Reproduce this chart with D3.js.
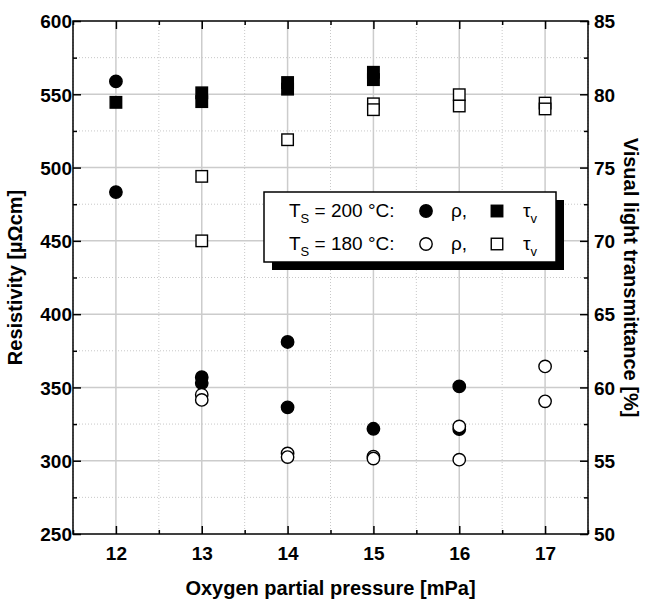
<!DOCTYPE html>
<html>
<head>
<meta charset="utf-8">
<script src="https://cdn.jsdelivr.net/npm/d3@7"></script>
<style>
  body { margin: 0; background: #fff; }
  text { font-family: "Liberation Sans", Arial, sans-serif; }
</style>
</head>
<body>
<div class="chart"></div>
<script>
// oxygen partial pressure [mPa] and values
const rho200P = [12, 12, 13, 13, 14, 14, 15, 16, 16];
const rho200  = [558.8, 483.3, 357, 353, 381, 336.4, 321.8, 350.7, 321.5];
const rho180P = [13, 13, 14, 14, 15, 15, 16, 16, 17, 17];
const rho180  = [345, 341.5, 305, 302.5, 302.8, 301.5, 323.4, 300.7, 364.3, 340.5];
const tau200P = [12, 13, 13, 14, 14, 15, 15];
const tau200  = [79.45, 80.1, 79.5, 80.8, 80.35, 81.5, 81.0];
const tau180P = [13, 13, 14, 15, 15, 16, 16, 17, 17];
const tau180  = [74.4, 70.0, 76.9, 79.35, 78.95, 79.97, 79.2, 79.4, 79.0];

const xTicks = [12, 13, 14, 15, 16, 17];
const yTicks = [250, 300, 350, 400, 450, 500, 550, 600];
const y2Ticks = [50, 55, 60, 65, 70, 75, 80, 85];

const W = 645, H = 604;
const margin = {top: 21, right: 57, bottom: 70, left: 73};
const w = W - margin.left - margin.right;
const h = H - margin.top - margin.bottom;

const svg = d3.select(".chart").append("svg")
    .attr("width", W)
    .attr("height", H);

const g = svg.append("g")
    .attr("transform", `translate(${margin.left},${margin.top})`);

const x = d3.scaleLinear().domain([11.5, 17.5]).range([0, w]);
const y = d3.scaleLinear().domain([250, 600]).range([h, 0]);
const y2 = d3.scaleLinear().domain([50, 85]).range([h, 0]);

const minorX = d3.range(11.5, 17.51, 1);
const minorY = d3.range(275, 600, 50);

// grid
g.append("g").selectAll("line")
    .data(minorX)
    .join("line")
    .attr("x1", d => x(d)).attr("x2", d => x(d))
    .attr("y1", 0).attr("y2", h)
    .attr("stroke", "#c8c8c8").attr("stroke-dasharray", "1,2");
g.append("g").selectAll("line")
    .data(minorY)
    .join("line")
    .attr("y1", d => y(d)).attr("y2", d => y(d))
    .attr("x1", 0).attr("x2", w)
    .attr("stroke", "#c8c8c8").attr("stroke-dasharray", "1,2");
g.append("g").selectAll("line")
    .data(xTicks)
    .join("line")
    .attr("x1", d => x(d)).attr("x2", d => x(d))
    .attr("y1", 0).attr("y2", h)
    .attr("stroke", "#cccccc").attr("stroke-width", 1.5);
g.append("g").selectAll("line")
    .data(yTicks.slice(1, -1))
    .join("line")
    .attr("y1", d => y(d)).attr("y2", d => y(d))
    .attr("x1", 0).attr("x2", w)
    .attr("stroke", "#cccccc").attr("stroke-width", 1.5);

// axes, ticks pointing inward
function styleAxis(sel) {
    sel.selectAll(".domain").remove();
    sel.selectAll(".tick line").attr("stroke", "#000").attr("stroke-width", 1.5);
    sel.selectAll(".tick text")
        .attr("font-size", 19)
        .attr("font-weight", "bold")
        .attr("fill", "#000");
}

g.append("g")
    .attr("transform", `translate(0,${h})`)
    .call(d3.axisBottom(x).tickValues(xTicks).tickFormat(d3.format("d")).tickSizeInner(-8).tickPadding(13))
    .call(styleAxis);
g.append("g")
    .attr("transform", `translate(0,${h})`)
    .call(d3.axisBottom(x).tickValues(minorX).tickFormat("").tickSizeInner(-4))
    .call(styleAxis);
g.append("g")
    .call(d3.axisTop(x).tickValues(xTicks).tickFormat("").tickSizeInner(-8))
    .call(styleAxis);
g.append("g")
    .call(d3.axisTop(x).tickValues(minorX).tickFormat("").tickSizeInner(-4))
    .call(styleAxis);

g.append("g")
    .call(d3.axisLeft(y).tickValues(yTicks).tickFormat(d3.format("d")).tickSizeInner(-8).tickPadding(2))
    .call(styleAxis)
    .call(a => a.selectAll(".tick text").attr("dx", "1").attr("dy", "0.36em"));
g.append("g")
    .call(d3.axisLeft(y).tickValues(minorY).tickFormat("").tickSizeInner(-4))
    .call(styleAxis);
g.append("g")
    .attr("transform", `translate(${w},0)`)
    .call(d3.axisRight(y2).tickValues(y2Ticks).tickFormat(d3.format("d")).tickSizeInner(-8).tickPadding(6))
    .call(styleAxis)
    .call(a => a.selectAll(".tick text").attr("dy", "0.36em"));
g.append("g")
    .attr("transform", `translate(${w},0)`)
    .call(d3.axisRight(y2).tickValues(d3.range(52.5, 85, 5)).tickFormat("").tickSizeInner(-4))
    .call(styleAxis);

// frame
g.append("rect")
    .attr("width", w).attr("height", h)
    .attr("fill", "none").attr("stroke", "#000").attr("stroke-width", 1.5);

// axis titles
g.append("text")
    .attr("x", w / 2).attr("y", h + 61)
    .attr("text-anchor", "middle")
    .attr("font-size", 20).attr("font-weight", "bold")
    .text("Oxygen partial pressure [mPa]");
g.append("text")
    .attr("transform", `translate(${-51},${h / 2}) rotate(-90)`)
    .attr("text-anchor", "middle")
    .attr("font-size", 20).attr("font-weight", "bold")
    .text("Resistivity [µΩcm]");
g.append("text")
    .attr("transform", `translate(${w + 36},${h / 2}) rotate(90)`)
    .attr("text-anchor", "middle")
    .attr("font-size", 20).attr("font-weight", "bold")
    .text("Visual light transmittance [%]");

// markers
const R = 6.2, S = 11.5;
function circles(px, vals, fill) {
    g.append("g").selectAll("circle")
        .data(vals)
        .join("circle")
        .attr("cx", (d, i) => x(px[i]))
        .attr("cy", d => y(d))
        .attr("r", R)
        .attr("fill", fill)
        .attr("stroke", "#000").attr("stroke-width", 1.4);
}
function squares(px, vals, fill) {
    g.append("g").selectAll("rect")
        .data(vals)
        .join("rect")
        .attr("x", (d, i) => x(px[i]) - S / 2)
        .attr("y", d => y2(d) - S / 2)
        .attr("width", S).attr("height", S)
        .attr("fill", fill)
        .attr("stroke", "#000").attr("stroke-width", 1.4);
}
circles(rho200P, rho200, "#000");
squares(tau200P, tau200, "#000");
circles(rho180P, rho180, "#fff");
squares(tau180P, tau180, "#fff");

// legend
const lg = svg.append("g").attr("transform", "translate(264,192)");
lg.append("rect")
    .attr("x", 8).attr("y", 8)
    .attr("width", 292).attr("height", 70)
    .attr("fill", "#000");
lg.append("rect")
    .attr("width", 292).attr("height", 70)
    .attr("fill", "#fff").attr("stroke", "#000").attr("stroke-width", 1.5);

const rows = [
    {label: " = 200 °C:", fill: "#000"},
    {label: " = 180 °C:", fill: "#fff"}
];
rows.forEach((r, i) => {
    const by = 25 + i * 33;
    const t = lg.append("text")
        .attr("x", 25).attr("y", by)
        .attr("font-size", 19);
    t.append("tspan").text("T");
    t.append("tspan").attr("font-size", 13).attr("dy", 6).text("S");
    t.append("tspan").attr("dy", -6).text(r.label);
    lg.append("circle")
        .attr("cx", 162).attr("cy", by - 6)
        .attr("r", R).attr("fill", r.fill)
        .attr("stroke", "#000").attr("stroke-width", 1.4);
    lg.append("text")
        .attr("x", 187).attr("y", by)
        .attr("font-size", 19)
        .text("ρ,");
    lg.append("rect")
        .attr("x", 233 - S / 2).attr("y", by - 6 - S / 2)
        .attr("width", S).attr("height", S)
        .attr("fill", r.fill)
        .attr("stroke", "#000").attr("stroke-width", 1.4);
    const tt = lg.append("text")
        .attr("x", 259).attr("y", by)
        .attr("font-size", 19);
    tt.append("tspan").text("τ");
    tt.append("tspan").attr("font-size", 13).attr("dy", 6).text("v");
});
</script>
</body>
</html>
